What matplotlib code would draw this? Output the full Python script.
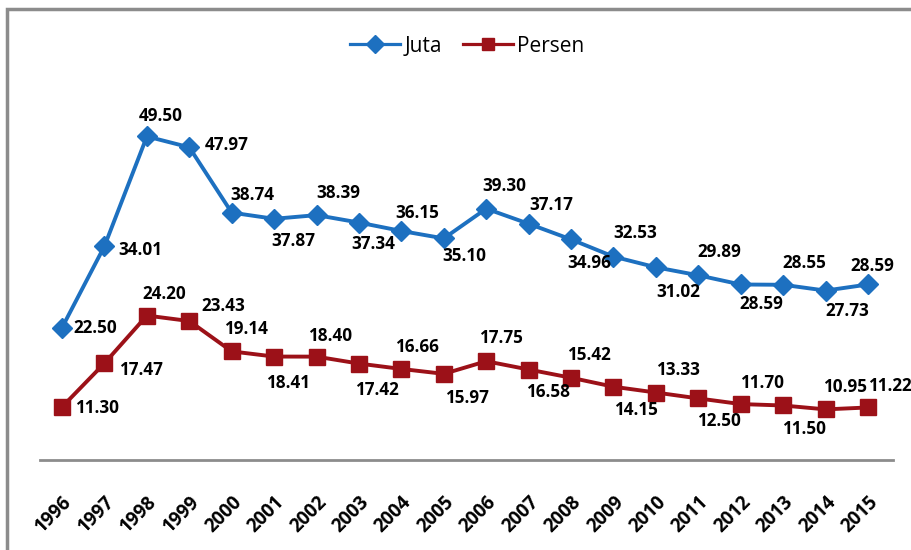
import matplotlib
matplotlib.use("Agg")
import matplotlib.pyplot as plt
from matplotlib.patches import Rectangle

years = ["1996", "1997", "1998", "1999", "2000", "2001", "2002", "2003", "2004", "2005",
         "2006", "2007", "2008", "2009", "2010", "2011", "2012", "2013", "2014", "2015"]
juta = [22.50, 34.01, 49.50, 47.97, 38.74, 37.87, 38.39, 37.34, 36.15, 35.10,
        39.30, 37.17, 34.96, 32.53, 31.02, 29.89, 28.59, 28.55, 27.73, 28.59]
persen = [11.30, 17.47, 24.20, 23.43, 19.14, 18.41, 18.40, 17.42, 16.66, 15.97,
          17.75, 16.58, 15.42, 14.15, 13.33, 12.50, 11.70, 11.50, 10.95, 11.22]

# label offsets in pixels (dx, dy)
juta_off = [(33, 0), (36, -4), (14, 20), (37, 2), (21, 18), (19, -22), (22, 22), (14, -21),
            (16, 18), (21, -18), (18, 23), (23, 19), (18, -24), (22, 24), (22, -25), (21, 23),
            (21, -20), (21, 22), (22, -20), (4, 18)]
persen_off = [(35, -1), (36, -7), (17, 22), (34, 15), (14, 22), (14, -26), (14, 21), (18, -26),
              (16, 22), (23, -24), (15, 23), (19, -22), (18, 23), (22, -23), (22, 23), (21, -23),
              (21, 21), (21, -24), (19, 22), (22, 21)]

BLUE = "#1d70c0"
RED = "#9c1118"

fig = plt.figure(figsize=(9.11, 5.5), dpi=100)
fig.patch.set_facecolor("white")
# outer frame
fig.patches.append(Rectangle((7 / 911, -0.1), 1.2, (550 - 9) / 550 + 0.1,
                             transform=fig.transFigure, fill=False,
                             edgecolor="#8c8c8c", linewidth=2.5))

ax = fig.add_axes([40 / 911, 90 / 550, 853 / 911, 360 / 550])
x = list(range(len(years)))
ax.plot(x, juta, color=BLUE, lw=2.8, marker="D", markersize=10, label="Juta")
ax.plot(x, persen, color=RED, lw=2.8, marker="s", markersize=11.5, label="Persen")

ax.set_xlim(-0.52, 19.59)
ax.set_ylim(3.8, 54.65)

for s in ["top", "right", "left"]:
    ax.spines[s].set_visible(False)
ax.spines["bottom"].set_color("#8c8c8c")
ax.spines["bottom"].set_linewidth(2)
ax.set_yticks([])
ax.set_xticks(x)
ax.set_xticklabels(years, rotation=45, ha="right", va="top", rotation_mode="anchor",
                   fontsize=13.5, fontweight="bold", family="Open Sans")
ax.tick_params(axis="x", length=0, pad=23)

for i, v in enumerate(juta):
    dx, dy = juta_off[i]
    ax.annotate(f"{v:.2f}", (i, v), xytext=(dx, dy), textcoords="offset pixels",
                ha="center", va="center", fontsize=12.3, fontweight="bold", family="Open Sans")
for i, v in enumerate(persen):
    dx, dy = persen_off[i]
    ax.annotate(f"{v:.2f}", (i, v), xytext=(dx, dy), textcoords="offset pixels",
                ha="center", va="center", fontsize=12.3, fontweight="bold", family="Open Sans")

leg = fig.legend(loc="center", bbox_to_anchor=(467 / 911, 1 - 46 / 550), ncol=2, frameon=False,
                 prop={"family": "Open Sans", "size": 15}, handlelength=2.4, columnspacing=1.0,
                 handletextpad=0.2)
for h in leg.legend_handles:
    h.set_markersize(9)
    h.set_linewidth(2.3)

fig.savefig("out.png", dpi=100)
